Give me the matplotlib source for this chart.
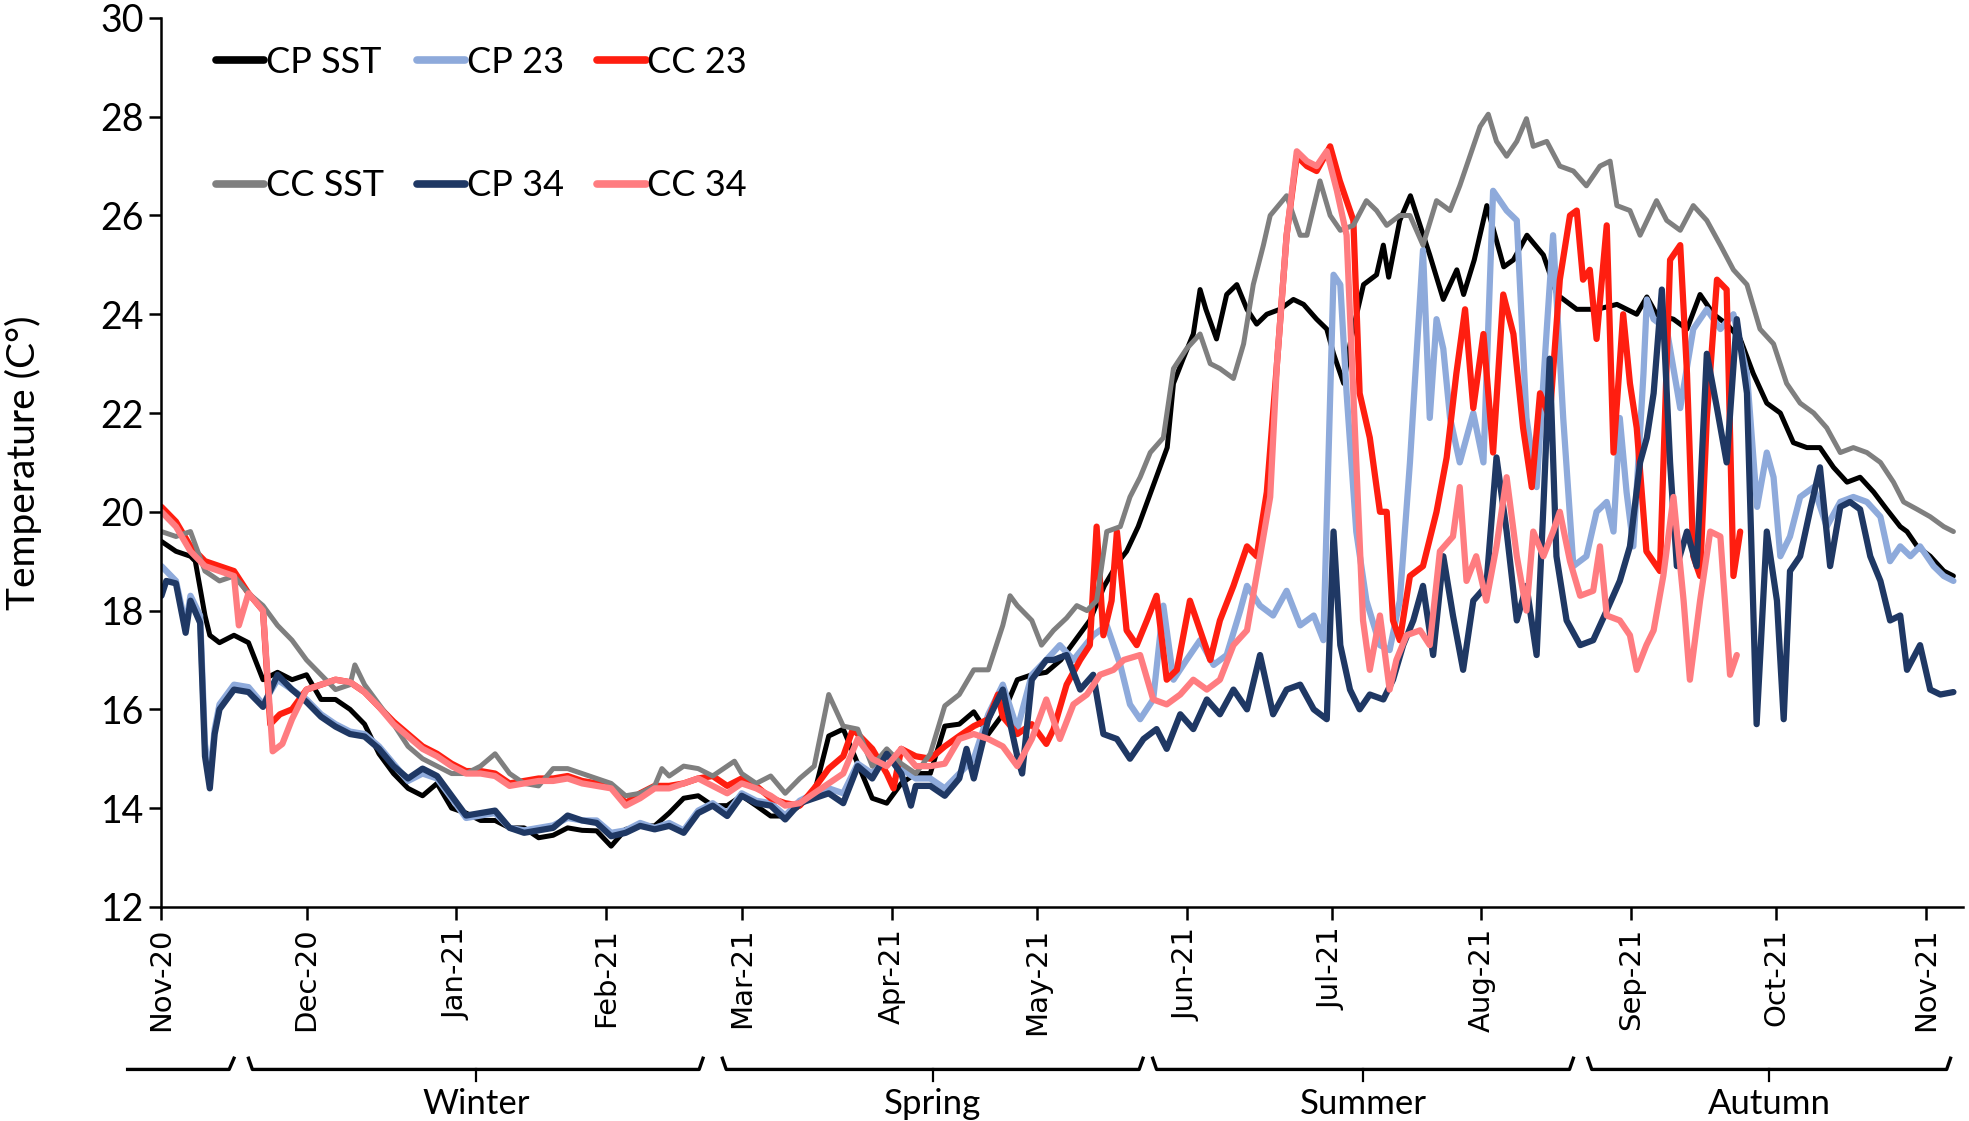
import pandas as pd
import matplotlib
matplotlib.use("Agg")
import matplotlib.pyplot as plt
import matplotlib.dates as mdates
import matplotlib.transforms as mtransforms

# day offsets are counted from 1 Nov 2020
START = pd.Timestamp("2020-11-01")

cp_sst_days = [0, 3, 6, 7, 9, 10, 12, 15, 18, 21, 24, 27, 30, 33, 36, 39, 42, 45, 48, 51, 54, 57, 60, 63, 66, 69, 72, 75, 78, 81, 84, 87,
               90, 93, 96, 99, 102, 105, 108, 111, 114, 117, 120, 123, 126, 129, 132, 135, 138, 141, 144, 147, 150, 153, 156, 159, 162, 165, 168, 171, 174, 177, 180, 183,
               186, 189, 192, 195, 198, 199.6, 202, 205, 208, 209.3, 211.3, 213.4, 214.8, 216, 218.2, 220.3, 222.4, 224.5, 226.5, 228.6, 231.3, 234.1, 236.2, 238.9, 241, 242.4, 244.5,
               246, 248.6, 251.3, 252.7, 253.8, 256.1, 258.3, 260.3, 262.3, 265.1, 267.9, 269.3, 271.5, 274.1, 277.6, 279.6, 282.4, 285.8, 288.6, 292.7, 296.9, 301, 305.1, 307.2,
               309.2, 312.7, 315.5, 318.2, 321, 323.7, 326.5, 329.2, 332, 334.8, 337.5, 340.3, 343, 345.8, 348.6, 351.3, 354.1, 356.8, 359.6, 361, 363.1, 365.8, 368.6, 370.6]
cp_sst = [19.4, 19.2, 19.1, 19.0, 17.9, 17.5, 17.35, 17.5, 17.35, 16.6, 16.75, 16.6, 16.7, 16.2, 16.2, 16.0, 15.7, 15.1, 14.7, 14.4, 14.25, 14.5, 14.0, 13.9, 13.75, 13.75, 13.6, 13.6, 13.4, 13.45, 13.6, 13.55,
          13.54, 13.23, 13.57, 13.64, 13.64, 13.9, 14.2, 14.25, 14.05, 14.05, 14.25, 14.05, 13.84, 13.84, 14.05, 14.3, 15.46, 15.6, 14.9, 14.2, 14.1, 14.5, 14.7, 14.7, 15.66, 15.7, 15.95, 15.5, 15.9, 16.6, 16.7, 16.75,
          17.0, 17.4, 17.8, 18.5, 19.0, 19.2, 19.7, 20.5, 21.3, 22.6, 23.1, 23.6, 24.5, 24.1, 23.5, 24.4, 24.6, 24.1, 23.8, 24.0, 24.1, 24.3, 24.2, 23.9, 23.7, 23.2, 22.6,
          23.5, 24.6, 24.8, 25.4, 24.75, 25.9, 26.4, 25.8, 25.2, 24.3, 24.9, 24.4, 25.1, 26.2, 24.96, 25.1, 25.6, 25.2, 24.4, 24.1, 24.1, 24.2, 24.0, 24.35,
          24.0, 23.9, 23.7, 24.4, 24.0, 23.8, 23.5, 22.8, 22.2, 22.0, 21.4, 21.3, 21.3, 20.9, 20.6, 20.7, 20.4, 20.05, 19.7, 19.6, 19.3, 19.1, 18.8, 18.7]

cc_sst_days = [0, 3, 6, 9, 12, 15, 18, 21, 24, 27, 30, 33, 36, 39, 40, 42, 45, 48, 51, 54, 57, 60, 63, 66, 69, 72, 75, 78, 81, 84, 87,
               90, 93, 96, 99, 102, 103.5, 105, 108, 111, 114, 117, 118.5, 120, 123, 126, 129, 132, 135, 138, 141, 144, 147, 150, 153, 156, 159, 162, 165, 168, 171, 174, 175.5, 177, 180,
               182, 184.5, 187.2, 189.3, 191.4, 193.4, 195.5, 198.3, 200.3, 202.4, 204.5, 207.2, 209.3, 212, 214.8, 216.9, 218.9, 221.7, 223.8, 225.8,
               227.9, 229.3, 232.7, 235.5, 236.9, 239.6, 241.7, 243.8, 246.5, 249.2, 251.3, 253.4, 256.1, 258.2, 260.9, 263.7, 266.5, 268.5, 270.6, 272.7,
               274.4, 276.1, 278.2, 280.3, 282.3, 283.7, 286.5, 289.2, 292, 294.7, 297.5, 299.6, 301, 303.7, 305.8, 309.2, 311.3, 314.1, 316.8, 319.6,
               322.4, 325.1, 327.9, 330.6, 333.4, 336.1, 338.9, 341.7, 344.4, 347.2, 349.9, 352.7, 355.5, 358.2, 360.3, 363.1, 365.8, 368.6, 370.6]
cc_sst = [19.6, 19.5, 19.6, 18.8, 18.6, 18.7, 18.35, 18.1, 17.7, 17.4, 17.0, 16.7, 16.4, 16.5, 16.9, 16.5, 16.1, 15.7, 15.25, 15.0, 14.85, 14.7, 14.7, 14.85, 15.1, 14.7, 14.5, 14.45, 14.8, 14.8, 14.7,
          14.6, 14.5, 14.25, 14.3, 14.45, 14.8, 14.65, 14.85, 14.8, 14.65, 14.85, 14.95, 14.7, 14.5, 14.65, 14.3, 14.6, 14.85, 16.3, 15.66, 15.6, 14.85, 15.2, 14.9, 14.7, 15.1, 16.07, 16.3, 16.8, 16.8, 17.7, 18.3, 18.1, 17.8,
          17.3, 17.6, 17.85, 18.1, 18.0, 18.2, 19.6, 19.7, 20.3, 20.7, 21.2, 21.5, 22.9, 23.3, 23.6, 23.0, 22.9, 22.7, 23.4, 24.6,
          25.4, 26.0, 26.4, 25.6, 25.6, 26.7, 26.0, 25.7, 25.8, 26.3, 26.1, 25.8, 26.0, 26.0, 25.4, 26.3, 26.1, 26.6, 27.2, 27.8,
          28.05, 27.5, 27.2, 27.5, 27.96, 27.4, 27.5, 27.0, 26.9, 26.6, 27.0, 27.1, 26.2, 26.1, 25.6, 26.3, 25.9, 25.7, 26.2, 25.9,
          25.4, 24.9, 24.6, 23.7, 23.4, 22.6, 22.2, 22.0, 21.7, 21.2, 21.3, 21.2, 21.0, 20.6, 20.2, 20.05, 19.9, 19.7, 19.6]

cp23_days = [0, 2, 3, 5, 6, 8, 9, 10, 11, 12, 15, 18, 21, 24, 27, 30, 33, 36, 39, 42, 45, 48, 51, 54, 57, 60, 63, 66, 69, 72, 75, 78, 81, 84, 87,
             90, 93, 96, 99, 102, 105, 108, 111, 114, 117, 120, 123, 126, 129, 132, 135, 138, 141, 144, 147, 150, 153, 156, 159, 162, 165, 168, 171, 174, 177, 180, 183,
             185.8, 188.6, 192.7, 195.5, 198.3, 200.3, 202.4, 205.1, 207.2, 209.3, 212, 214.8, 217.6, 220.3, 223.1, 224.5, 227.2, 229.9, 232.7, 235.5,
             238.3, 240.3, 242.4, 243.8, 245.1, 247.1, 249.2, 252, 254, 256.1, 258.2, 260.9, 262.3, 263.7, 265.1, 266.5, 268.5, 271.3, 273.4, 275.4,
             278.2, 280.3, 282.3, 284.4, 286.5, 287.8, 289.9, 292, 294.7, 296.8, 298.9, 300.3, 301.6, 303, 304.4, 306.5, 307.2, 308.6, 311.3, 314.1,
             316.8, 319.6, 322.4, 325.1, 327.9, 330, 332, 333.4, 334.8, 336.8, 338.9, 341.7, 344.4, 347.2, 349.9, 352.7, 355.5, 357.5, 359.6, 361.7,
             363.7, 366.5, 368.6, 370.6]
cp23 = [18.9, 18.7, 18.6, 17.7, 18.3, 17.9, 15.3, 14.6, 15.6, 16.1, 16.5, 16.45, 16.1, 16.6, 16.4, 16.2, 15.9, 15.7, 15.55, 15.5, 15.25, 14.9, 14.55, 14.7, 14.6, 14.2, 13.8, 13.85, 13.9, 13.6, 13.55, 13.6, 13.65, 13.8, 13.75,
        13.75, 13.5, 13.55, 13.7, 13.6, 13.7, 13.55, 13.95, 14.1, 13.9, 14.3, 14.15, 14.1, 13.85, 14.15, 14.3, 14.4, 14.3, 14.9, 14.7, 15.1, 14.8, 14.6, 14.6, 14.4, 14.7, 15.0, 15.9, 16.5, 15.6, 16.7, 17.0,
        17.3, 17.0, 17.5, 17.7, 16.9, 16.1, 15.8, 16.2, 18.1, 16.6, 17.0, 17.4, 16.9, 17.1, 18.0, 18.5, 18.1, 17.9, 18.4, 17.7,
        17.9, 17.4, 24.8, 24.6, 22.4, 19.6, 18.2, 17.3, 17.2, 18.2, 21.0, 25.3, 21.9, 23.9, 23.3, 21.9, 21.0, 22.0, 21.0, 26.5,
        26.1, 25.9, 21.9, 20.5, 23.7, 25.6, 21.9, 18.9, 19.1, 20.0, 20.2, 19.6, 21.9, 20.4, 19.3, 22.8, 24.3, 23.9, 23.7, 22.1,
        23.7, 24.1, 23.7, 24.0, 22.8, 20.1, 21.2, 20.7, 19.1, 19.5, 20.3, 20.5, 19.7, 20.2, 20.3, 20.2, 19.9, 19.0, 19.3, 19.1,
        19.3, 18.9, 18.7, 18.6]

cc23_days = [0, 3, 6, 9, 12, 15, 18, 21, 22.5, 24.5, 27, 30, 33, 36, 39, 42, 45, 48, 51, 54, 57, 60, 63, 66, 69, 72, 75, 78, 81, 84, 87,
             90, 93, 96, 99, 102, 105, 108, 111, 114, 117, 120, 123, 126, 129, 132, 135, 138, 141, 143, 144, 147, 150, 151.4, 153, 156, 159, 162, 165, 168, 171, 173, 174, 177, 180, 183,
             184.5, 187.2, 190, 192, 193.4, 194.8, 196.5, 197.6, 199.6, 201.7, 203.8, 205.8, 207.9, 210, 212.7, 214.8, 216.9, 218.9, 221.7, 224.5,
             226.5, 228.6, 230.7, 232.7, 234.8, 236.9, 238.9, 241.7, 243.7, 246.5, 247.8, 249.9, 252, 253.4, 254.7, 256.1, 258.2, 260.9, 263.7, 265.8,
             267.8, 269.6, 271.3, 273.4, 275.4, 277.5, 279.6, 281.6, 283.4, 285.1, 287.1, 289.2, 291.3, 292.7, 294, 295.4, 296.8, 298.9, 300.3, 302.3,
             303.7, 305.1, 307.1, 309.9, 312, 314.1, 315.5, 316.8, 318.2, 319.6, 321.7, 323.7, 325.1, 326.5]
cc23 = [20.1, 19.8, 19.3, 19.0, 18.9, 18.8, 18.35, 18.0, 15.7, 15.9, 16.0, 16.4, 16.5, 16.6, 16.55, 16.35, 16.05, 15.75, 15.5, 15.25, 15.1, 14.9, 14.75, 14.75, 14.7, 14.5, 14.55, 14.6, 14.6, 14.65, 14.55,
        14.5, 14.45, 14.1, 14.3, 14.45, 14.45, 14.5, 14.6, 14.65, 14.45, 14.6, 14.45, 14.2, 14.1, 14.05, 14.4, 14.8, 15.05, 15.6, 15.5, 15.2, 14.7, 14.4, 15.2, 15.05, 15.0, 15.25, 15.46, 15.66, 15.8, 16.3, 15.85, 15.5, 15.7, 15.3,
        15.6, 16.5, 17.0, 17.3, 19.7, 17.5, 18.2, 19.6, 17.6, 17.3, 17.8, 18.3, 16.6, 16.8, 18.2, 17.6, 17.0, 17.8, 18.5, 19.3,
        19.1, 20.4, 23.0, 25.6, 27.2, 27.0, 26.9, 27.4, 26.7, 25.9, 22.4, 21.5, 20.0, 20.0, 17.8, 17.4, 18.7, 18.9, 20.0, 21.1,
        22.8, 24.1, 22.1, 23.6, 21.2, 24.4, 23.6, 21.7, 20.5, 22.4, 21.9, 24.7, 26.0, 26.1, 24.7, 24.9, 23.5, 25.8, 21.2, 24.0,
        22.6, 21.7, 19.2, 18.8, 25.1, 25.4, 22.8, 19.1, 18.7, 21.9, 24.7, 24.5, 18.7, 19.6]

cp34_days = [0, 1, 3, 5, 6, 8, 9, 10, 11, 12, 15, 18, 21, 24, 27, 30, 33, 36, 39, 42, 45, 48, 51, 54, 57, 60, 63, 66, 69, 72, 75, 78, 81, 84, 87,
             90, 93, 96, 99, 102, 105, 108, 111, 114, 117, 120, 123, 126, 129, 132, 135, 138, 141, 144, 147, 150, 153, 155, 156, 159, 162, 165, 166.5, 168, 171, 174, 177, 178, 180, 183,
             184.5, 187.2, 190, 192.7, 194.8, 197.6, 200.3, 203.1, 205.8, 207.9, 210.7, 213.4, 216.2, 218.9, 221.7, 224.5, 227.2, 229.9, 232.7, 235.5,
             238.3, 241, 242.4, 243.8, 245.8, 247.8, 249.9, 252.7, 254.7, 256.8, 258.9, 260.9, 263, 265.1, 267.1, 269.2, 271.3, 274, 276.1, 278.2,
             280.3, 282.3, 284.4, 285.8, 287.1, 288.5, 290.6, 293.4, 296.1, 298.9, 301.6, 303.7, 305.8, 307.2, 308.6, 310.3, 312, 313.4, 315.5, 317.5,
             319.6, 321.7, 323.7, 325.8, 327.9, 329.9, 332, 334.1, 335.5, 336.8, 338.9, 341, 343, 345.1, 347.2, 349.2, 351.3, 353.4, 355.5, 357.5,
             359.6, 361, 363.7, 365.8, 367.9, 370.6]
cp34 = [18.3, 18.6, 18.55, 17.55, 18.2, 17.75, 15.05, 14.4, 15.5, 16.0, 16.4, 16.35, 16.05, 16.7, 16.4, 16.15, 15.85, 15.65, 15.5, 15.45, 15.2, 14.85, 14.6, 14.8, 14.65, 14.25, 13.85, 13.9, 13.95, 13.6, 13.5, 13.55, 13.6, 13.85, 13.75,
        13.7, 13.43, 13.5, 13.64, 13.57, 13.64, 13.5, 13.9, 14.05, 13.84, 14.25, 14.1, 14.05, 13.77, 14.1, 14.2, 14.3, 14.1, 14.85, 14.6, 15.1, 14.7, 14.05, 14.45, 14.45, 14.25, 14.6, 15.2, 14.6, 15.8, 16.4, 15.05, 14.7, 16.6, 17.0,
        17.0, 17.1, 16.4, 16.7, 15.5, 15.4, 15.0, 15.4, 15.6, 15.2, 15.9, 15.6, 16.2, 15.9, 16.4, 16.0, 17.1, 15.9, 16.4, 16.5,
        16.0, 15.8, 19.6, 17.3, 16.4, 16.0, 16.3, 16.2, 16.6, 17.3, 17.8, 18.5, 17.1, 19.1, 17.9, 16.8, 18.2, 18.5, 21.1, 19.6,
        17.8, 18.5, 17.1, 20.1, 23.1, 19.1, 17.8, 17.3, 17.4, 18.0, 18.6, 19.3, 21.0, 21.5, 22.4, 24.5, 21.0, 18.9, 19.6, 18.9,
        23.2, 22.1, 21.0, 23.9, 22.4, 15.7, 19.6, 18.2, 15.8, 18.8, 19.1, 20.05, 20.9, 18.9, 20.1, 20.2, 20.05, 19.1, 18.6, 17.8,
        17.9, 16.8, 17.3, 16.4, 16.3, 16.35]

cc34_days = [0, 3, 6, 9, 12, 15, 16, 18, 21, 23, 25, 27, 30, 33, 36, 39, 42, 45, 48, 51, 54, 57, 60, 63, 66, 69, 72, 75, 78, 81, 84, 87,
             90, 93, 96, 99, 102, 105, 108, 111, 114, 117, 120, 123, 126, 129, 132, 135, 138, 141, 144, 147, 150, 153, 156, 159, 162, 165, 168, 171, 174, 177, 180, 183,
             185.8, 188.6, 191.4, 194.1, 196.9, 199, 202.4, 205.1, 207.9, 210.7, 213.4, 216.2, 218.9, 221.7, 224.5, 227.2, 229.3, 230.7, 232.7, 234.8,
             236.9, 238.9, 241, 243.1, 245.1, 247.1, 248.5, 249.9, 252, 254, 255.4, 257.5, 260.3, 262.3, 264.4, 267.1, 268.5, 269.9, 271.9, 274,
             276.1, 278.2, 280.3, 282.3, 283.7, 285.8, 287.8, 289.2, 291.3, 293.4, 296.1, 297.5, 298.9, 301.6, 303.7, 305.1, 307.1, 308.6, 310.6, 312.7,
             314.8, 316.1, 318.2, 320.3, 322.4, 324.4, 325.8]
cc34 = [20.0, 19.7, 19.2, 18.9, 18.8, 18.7, 17.7, 18.35, 18.0, 15.15, 15.3, 15.8, 16.4, 16.5, 16.6, 16.55, 16.35, 16.05, 15.7, 15.45, 15.2, 15.05, 14.85, 14.7, 14.7, 14.65, 14.45, 14.5, 14.55, 14.55, 14.6, 14.5,
        14.45, 14.4, 14.05, 14.2, 14.4, 14.4, 14.5, 14.6, 14.45, 14.3, 14.5, 14.4, 14.25, 14.05, 14.1, 14.3, 14.5, 14.7, 15.4, 15.0, 14.85, 15.2, 14.85, 14.85, 14.9, 15.4, 15.5, 15.4, 15.25, 14.85, 15.4, 16.2,
        15.4, 16.1, 16.3, 16.7, 16.8, 17.0, 17.1, 16.2, 16.1, 16.3, 16.6, 16.4, 16.6, 17.3, 17.6, 19.1, 20.3, 23.0, 25.6, 27.3,
        27.1, 27.0, 27.3, 26.5, 25.6, 21.0, 17.8, 16.8, 17.9, 16.4, 17.0, 17.5, 17.6, 17.3, 19.2, 19.5, 20.5, 18.6, 19.1, 18.2,
        19.3, 20.7, 19.1, 18.0, 19.6, 19.1, 19.6, 20.0, 19.0, 18.3, 18.4, 19.3, 17.9, 17.8, 17.5, 16.8, 17.3, 17.6, 18.7, 20.3,
        18.2, 16.6, 18.2, 19.6, 19.5, 16.7, 17.1]

# (label, start, end) of the season brackets under the axis
season_names = ["", "Winter", "Spring", "Summer", "Autumn"]
season_starts = ["2020-10-25", "2020-11-19", "2021-02-25", "2021-05-25", "2021-08-23"]
season_ends = ["2020-11-16", "2021-02-21", "2021-05-23", "2021-08-20", "2021-11-06"]

series = [
    ("CP SST", cp_sst_days, cp_sst, "#000000", 3.6),
    ("CP 23", cp23_days, cp23, "#8eaadb", 4.5),
    ("CC 23", cc23_days, cc23, "#ff1e10", 4.5),
    ("CC SST", cc_sst_days, cc_sst, "#7f7f7f", 3.6),
    ("CP 34", cp34_days, cp34, "#1f3864", 4.5),
    ("CC 34", cc34_days, cc34, "#ff7c80", 4.5),
]

FONT = "Lato"

fig = plt.figure(figsize=(19.69, 11.21), dpi=100)
ax = fig.add_axes([0.082, 0.191, 0.915, 0.793])

handles = {}
for name, days, temps, color, lw in series:
    assert len(days) == len(temps), name
    dates = START + pd.to_timedelta(days, unit="D")
    (ln,) = ax.plot(dates, temps, color=color, lw=lw, label=name,
                    solid_joinstyle="round", solid_capstyle="round")
    handles[name] = ln

ax.set_ylim(12, 30)
ax.set_yticks(range(12, 31, 2))
ax.set_xlim(START, START + pd.Timedelta(days=372.6))

ax.xaxis.set_major_locator(mdates.MonthLocator())
ax.xaxis.set_major_formatter(mdates.DateFormatter("%b-%y"))
for lab in ax.get_xticklabels():
    lab.set_rotation(90)
    lab.set_fontfamily("DejaVu Sans")
    lab.set_fontsize(21)
for lab in ax.get_yticklabels():
    lab.set_fontfamily(FONT)
    lab.set_fontsize(27)

for side in ["top", "right"]:
    ax.spines[side].set_visible(False)
for side in ["left", "bottom"]:
    ax.spines[side].set_linewidth(1.8)
ax.tick_params(axis="both", width=1.8, length=9, direction="out")
ax.tick_params(axis="x", pad=6)

ax.set_ylabel("Temperature (C\u00b0)", fontfamily=FONT, fontsize=28, labelpad=42)

# legend: Excel-style three columns, filled row by row
order = ["CP SST", "CC SST", "CP 23", "CP 34", "CC 23", "CC 34"]
leg = ax.legend([handles[k] for k in order], order, ncol=3, loc="upper left",
                bbox_to_anchor=(0.012, 1.005), frameon=False,
                prop={"family": FONT, "size": 26}, handlelength=1.35,
                handletextpad=0.05, columnspacing=0.9, labelspacing=2.5)
for h in leg.get_lines():
    h.set_linewidth(5.5)

# season brackets below the month labels
trans = mtransforms.blended_transform_factory(ax.transData, fig.transFigure)
y_line = 0.046
curl = 0.010
for name, s, e in zip(season_names, season_starts, season_ends):
    x0 = mdates.date2num(pd.Timestamp(s))
    x1 = mdates.date2num(pd.Timestamp(e))
    xm = (x0 + x1) / 2
    if name == "":
        ax.plot([x0, x1 - 1, x1], [y_line, y_line, y_line + curl], color="black",
                lw=2.4, transform=trans, clip_on=False)
        continue
    ax.plot([x0, x0 + 0.8, x1 - 0.8, x1],
            [y_line + curl, y_line, y_line, y_line + curl],
            color="black", lw=2.4, transform=trans, clip_on=False)
    ax.plot([xm, xm], [y_line, y_line - curl], color="black", lw=1.6,
            transform=trans, clip_on=False)
    ax.text(xm, y_line - 0.017, name, transform=trans, ha="center", va="top",
            fontfamily=FONT, fontsize=25)

fig.savefig("out.png", dpi=100)
